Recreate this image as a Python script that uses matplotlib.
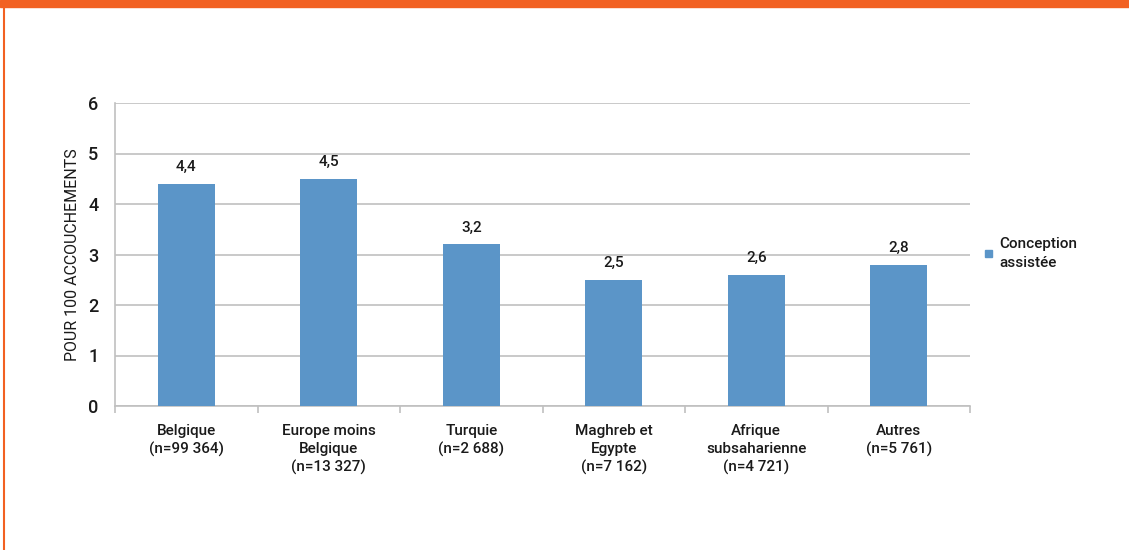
import matplotlib
matplotlib.use("Agg")
import matplotlib.pyplot as plt
from matplotlib.patches import Rectangle
from matplotlib.lines import Line2D

categories = ["Belgique\n(n=99 364)", "Europe moins\nBelgique\n(n=13 327)", "Turquie\n(n=2 688)",
              "Maghreb et\nEgypte\n(n=7 162)", "Afrique\nsubsaharienne\n(n=4 721)", "Autres\n(n=5 761)"]
values = [4.4, 4.5, 3.2, 2.5, 2.6, 2.8]
value_labels = ["4,4", "4,5", "3,2", "2,5", "2,6", "2,8"]
series_name = "Conception\nassistée"
ylabel = "POUR 100 ACCOUCHEMENTS"

plt.rcParams['font.family'] = ['Roboto', 'DejaVu Sans']
plt.rcParams['font.weight'] = 'medium'

fig = plt.figure(figsize=(11.29, 5.5), dpi=100)
orange = "#F26122"
bar_color = "#5B95C8"
grid_color = "#C0C0C0"
text_color = "#1a1a1a"

# frame decorations
fig.patches.append(Rectangle((0, 1 - 7/550), 1, 7/550, transform=fig.transFigure, color=orange, zorder=0))
fig.lines.append(Line2D([3.5/1129, 3.5/1129], [0, 1 - 7/550], transform=fig.transFigure, color=orange, lw=1.5))

ax = fig.add_axes([115/1129, 1 - 406/550, (970-115)/1129, (406-103)/550])
x = range(len(values))
ax.bar(x, values, width=0.4, color=bar_color, zorder=3)
for xi, v, lab in zip(x, values, value_labels):
    ax.annotate(lab, (xi, v), xytext=(0, 7), textcoords="offset points", ha="center", va="bottom",
                fontsize=11, color=text_color)

ax.set_xlim(-0.5, len(values) - 0.5)
ax.set_ylim(0, 6)
ax.set_yticks(range(7))
ax.yaxis.grid(True, color=grid_color, lw=1.2, zorder=0)
ax.set_axisbelow(True)
for s in ["top", "right"]:
    ax.spines[s].set_visible(False)
ax.spines["left"].set_color(grid_color)
ax.spines["bottom"].set_color(grid_color)
ax.spines["left"].set_linewidth(1.2)
ax.spines["bottom"].set_linewidth(1.2)
ax.tick_params(axis="y", length=0, labelsize=13, pad=12, labelcolor=text_color)
ax.set_xticks([i - 0.5 for i in range(len(values) + 1)], minor=False)
ax.set_xticklabels([])
ax.tick_params(axis="x", which="major", length=5, color=grid_color, width=1.2, direction="out")
ax.set_xticks(list(x), minor=True)
ax.set_xticklabels(categories, minor=True, fontsize=11, linespacing=1.35, va="top", color=text_color)
ax.tick_params(axis="x", which="minor", length=0, pad=13)
for t in ax.get_xticklabels(minor=True):
    t.set_ha("center")
    t.set_multialignment("center")
ax.set_ylabel(ylabel, fontsize=11.5, labelpad=6, color=text_color)

# legend
fig.patches.append(Rectangle((985/1129, 1 - 257/550), 7/1129, 7/550, transform=fig.transFigure, color=bar_color))
fig.text(999/1129, 1 - 237/550, series_name, fontsize=11, va="top", ha="left", linespacing=1.45, color=text_color)

fig.savefig("out.png", dpi=100)
